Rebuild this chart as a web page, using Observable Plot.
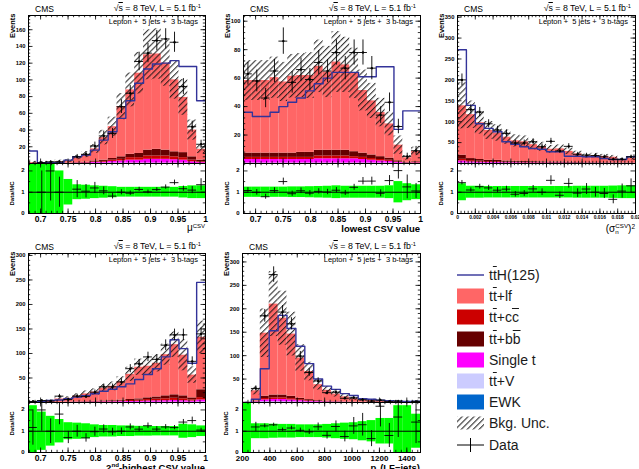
<!DOCTYPE html>
<html>
<head>
<meta charset="utf-8">
<script src="https://cdn.jsdelivr.net/npm/d3@7"></script>
<script src="https://cdn.jsdelivr.net/npm/@observablehq/plot@0.6"></script>
<style>
  html, body { margin: 0; padding: 0; background: #fff; }
  #page { position: relative; width: 639px; height: 469px; overflow: hidden;
          font-family: "Liberation Sans", Arial, Helvetica, sans-serif; color: #000; }
  .txt { position: absolute; white-space: pre; line-height: 1; }
  .ol { text-decoration: overline; }
  .txt sup { font-size: 65%; position: relative; top: -0.55em; vertical-align: baseline; line-height: 0; }
  .txt sub { font-size: 65%; position: relative; top: 0.3em; vertical-align: baseline; line-height: 0; }
  .stack { display: inline-block; font-size: 62%; line-height: 0.95; vertical-align: -0.35em; text-align: left; }
  .stack span { display: block; }
  .sw { position: absolute; }
</style>
</head>
<body>
<svg width="0" height="0" style="position:absolute">
  <defs>
    <pattern id="hatch" patternUnits="userSpaceOnUse" width="4.2" height="4.2" patternTransform="rotate(45)">
      <line x1="0.6" y1="-1" x2="0.6" y2="6" stroke="#111" stroke-width="0.95"/>
    </pattern>
  </defs>
</svg>
<div id="page"></div>
<script>
// ---------- binning and tick labels ----------
const nBins = 20;
const csvRange = [0.678, 1];
const sigRange = [0, 0.02];
const ptRange = [200, 1500];
const csvTicks = [0.7, 0.75, 0.8, 0.85, 0.9, 0.95, 1];
const sigTicks = [0, 0.002, 0.004, 0.006, 0.008, 0.01, 0.012, 0.014, 0.016, 0.018, 0.02];
const ptTicks = [200, 400, 600, 800, 1000, 1200, 1400];
const ratioTicks = [0, 1, 2];
const muYTicks = [20, 40, 60, 80, 100, 120, 140, 160];
const lowYTicks = [20, 40, 60, 80, 100];
const sigYTicks = [50, 100, 150, 200, 250, 300, 350];
const secYTicks = [50, 100, 150, 200, 250, 300];
const ptYTicks = [50, 100, 150, 200, 250, 300];

// ---------- mu^CSV ----------
const muLf  = [1, 1, 1, 2, 2.5, 6, 9, 14.5, 27, 38, 60, 77, 96, 114, 114, 104, 86, 66, 32, 13];
const muCc  = [0, 0, 0, 0, 0.2, 0.3, 0.5, 0.8, 1, 1.5, 2, 3, 3, 4, 4, 4, 3.5, 3, 2, 1];
const muBb  = [0, 0, 0, 0, 0.2, 0.3, 0.5, 1, 1.5, 2, 3, 4, 5, 7, 8, 7, 6, 6, 4, 2];
const muSt  = [0, 0, 0, 0, 0.1, 0.4, 0.5, 1, 1.2, 2, 2.5, 3.5, 3.5, 4.5, 4.5, 4.5, 4, 3.5, 2, 1];
const muTtv = [0, 0, 0, 0, 0, 0, 0, 0.2, 0.3, 0.5, 0.5, 0.5, 0.5, 0.5, 0.5, 0.5, 0.5, 0.5, 0, 0];
const muEwk = [0, 0, 0, 0, 0, 0, 0, 0, 0, 0, 0, 0, 0, 0, 0, 0, 0, 0, 0, 0];
const muTth = [15, 1, 1, 1, 4, 8, 10, 16, 28, 38, 54, 75, 96, 113, 119, 120, 123, 116, 116, 75];
const muData = [0, 1, 2, 2, 0, 8, 11, 21, 33, 36, 68, 84, 122, 132, 147, 149, 145, 92, 44, 23];
const muUnc = [1.4, 1.4, 1.4, 1.0, 0.6, 0.35, 0.33, 0.3, 0.28, 0.26, 0.23, 0.23, 0.23, 0.23, 0.23, 0.23, 0.23, 0.27, 0.3, 0.3];

// ---------- lowest CSV value ----------
const lowLf  = [51, 51, 51, 53, 50, 54, 54, 54, 59, 55, 62, 60, 55, 44, 38, 31, 24, 11, 3.2, 7.3];
const lowCc  = [1.5, 1.5, 1.5, 1.5, 1.5, 1.5, 1.5, 1.5, 2, 2, 2, 2, 1.5, 1.5, 1.2, 1, 0.8, 0.4, 0.2, 0.3];
const lowBb  = [3, 3, 3, 3, 3, 3, 3.5, 3.5, 4, 4, 4, 4, 3.5, 3, 2.5, 2, 1.5, 0.8, 0.3, 0.5];
const lowSt  = [2.5, 2.5, 2.5, 2.5, 2.5, 2.5, 2.5, 2.5, 3, 3, 3, 3, 3, 2.5, 2, 1.5, 1.2, 0.6, 0.2, 0.3];
const lowTtv = [0.3, 0.3, 0.3, 0.3, 0.3, 0.3, 0.3, 0.3, 0.3, 0.3, 0.3, 0.3, 0.3, 0.3, 0.3, 0.3, 0.3, 0.1, 0.1, 0.1];
const lowEwk = [0, 0, 0, 0, 0, 0, 0, 0, 0, 0, 0, 0, 0, 0, 0, 0, 0, 0, 0, 0];
const lowTth = [36, 33, 33, 36, 40, 43, 46, 51, 56, 60, 64, 64, 64, 61, 61, 68, 68, 24, 37, 37];
const lowData = [63, 58, 46, 65, 86, 57, 66, 59, 71, 65, 78, 67, 78, 78, 67, 34, 43, 26, 5, 9];
const lowUnc = [0.24, 0.24, 0.24, 0.24, 0.24, 0.25, 0.25, 0.26, 0.27, 0.28, 0.3, 0.28, 0.28, 0.28, 0.28, 0.28, 0.3, 0.5, 0.4, 0.35];

// ---------- (sigma_n^CSV)^2 ----------
const sigLf  = [118, 105, 88, 71.5, 65.5, 57, 49, 47.3, 40.7, 36.2, 30.7, 31.6, 26.2, 20.7, 15.6, 17.2, 15.4, 13.4, 8.3, 11];
const sigCc  = [4, 3, 2.5, 2, 2, 1.5, 1.3, 1.2, 1, 1, 0.8, 0.8, 0.7, 0.5, 0.4, 0.4, 0.4, 0.4, 0.3, 0.3];
const sigBb  = [10, 5, 4, 3, 3, 2.5, 2, 2, 1.8, 1.5, 1.3, 1.4, 1.1, 0.9, 0.7, 0.7, 0.6, 0.6, 0.4, 0.5];
const sigSt  = [5, 3, 2.5, 2, 2, 1.5, 1.5, 1.2, 1.2, 1, 1, 1, 0.8, 0.7, 0.6, 0.6, 0.5, 0.5, 0.4, 0.4];
const sigTtv = [1, 0.8, 0.6, 0.5, 0.5, 0.4, 0.4, 0.3, 0.3, 0.3, 0.2, 0.2, 0.2, 0.2, 0.1, 0.1, 0.1, 0.1, 0.1, 0.1];
const sigEwk = [0, 0, 0, 0, 0, 0, 0, 0, 0, 0, 0, 0, 0, 0, 0, 0, 0, 0, 0, 0];
const sigTth = [272, 139, 95, 84, 76, 52, 46, 40, 36, 34, 28, 28, 17.5, 17.5, 16, 16, 12, 9.5, 9.5, 16];
const sigData = [200, 129, 123, 95, 80, 72, 49, 49, 52, 40, 53, 30, 41, 22, 20, 19, 16, 10, 10, 16];
const sigUnc = [0.4, 0.28, 0.28, 0.27, 0.27, 0.27, 0.27, 0.27, 0.27, 0.27, 0.27, 0.27, 0.27, 0.28, 0.28, 0.28, 0.28, 0.29, 0.3, 0.3];

// ---------- 2nd-highest CSV value ----------
const secLf  = [1.7, 2, 3, 7, 7.7, 11.6, 15.7, 19.1, 25.8, 29.2, 37.2, 51.4, 64.6, 64.5, 68.7, 83.9, 102.3, 82.9, 46.6, 107];
const secCc  = [0, 0, 0, 0.2, 0.3, 0.5, 0.6, 0.8, 1, 1.2, 1.5, 2, 2.5, 3, 3.5, 4, 4.5, 4, 2.5, 5];
const secBb  = [0, 0, 0, 0, 0.2, 0.3, 0.5, 0.7, 1, 1.2, 1.5, 2, 2.5, 3.5, 4.5, 6, 7, 6, 4, 16];
const secSt  = [0, 0, 0, 0, 0.3, 0.5, 0.6, 0.8, 1, 1.2, 1.5, 1.8, 2, 2.5, 2.8, 3, 3.5, 3, 2.5, 4];
const secTtv = [0, 0, 0, 0, 0, 0.1, 0.1, 0.1, 0.2, 0.2, 0.3, 0.3, 0.4, 0.5, 0.5, 0.6, 0.7, 0.6, 0.4, 1];
const secEwk = [0, 0, 0, 0, 0, 0, 0, 0, 0, 0, 0, 0, 0, 0, 0, 0, 0, 0, 0, 0];
const secTth = [1, 2.5, 4, 5, 8, 11, 14, 18, 23, 27, 32, 38, 47, 57, 69, 93, 128, 110, 80, 245];
const secData = [2, 4, 3, 13, 6, 13, 12, 21, 32, 32, 42, 69, 79, 93, 88, 117, 138, 138, 84, 140];
const secUnc = [1.2, 0.9, 0.7, 0.55, 0.4, 0.38, 0.35, 0.3, 0.27, 0.27, 0.25, 0.25, 0.23, 0.23, 0.22, 0.22, 0.22, 0.33, 0.3, 0.25];

// ---------- pT(LF-jets) ----------
const ptLf  = [0.3, 22, 134.5, 194, 164, 132.7, 86, 60, 34, 23.3, 16.2, 10.8, 7.2, 4.1, 4.1, 2.05, 2.25, 1.55, 1.25, 1.15];
const ptCc  = [0, 0.5, 3, 3.5, 3.5, 3, 2, 1.5, 1, 0.6, 0.4, 0.3, 0.2, 0.1, 0.1, 0.05, 0.05, 0.05, 0.05, 0.05];
const ptBb  = [0, 1, 5, 6, 6, 5, 3, 2, 1.2, 0.8, 0.5, 0.3, 0.2, 0.1, 0.1, 0.05, 0.05, 0.05, 0.05, 0.05];
const ptSt  = [0, 1, 4, 5, 5, 4, 3, 2, 1.5, 1, 0.7, 0.5, 0.3, 0.2, 0.2, 0.1, 0.1, 0.1, 0.1, 0.1];
const ptTtv = [0, 0.2, 1, 1, 1, 1, 0.7, 0.5, 0.3, 0.2, 0.2, 0.1, 0.1, 0.1, 0.1, 0.05, 0.05, 0.05, 0.05, 0.05];
const ptEwk = [0, 0.3, 0.5, 0.5, 0.5, 0.3, 0.2, 0.1, 0.1, 0.1, 0, 0, 0, 0, 0, 0, 0, 0, 0, 0];
const ptTth = [0, 7, 72, 153, 186, 158, 120, 83, 50, 35, 28, 19, 15, 8, 7, 5, 4, 3, 2, 3];
const ptData = [0, 30, 185, 273, 193, 168, 99, 64, 46, 21, 22, 9, 10, 6, 3, 5, 2, 3, 0, 2];
const ptUnc = [1.5, 0.35, 0.35, 0.33, 0.32, 0.32, 0.3, 0.3, 0.3, 0.32, 0.35, 0.38, 0.4, 0.45, 0.5, 0.6, 0.6, 1.2, 1.2, 0.8];

// ---------- processes and legend ----------
const compNames  = ["EWK", "tt+V", "Single t", "tt+cc", "tt+bb", "tt+lf"];   // stacking order, bottom first
const compColors = ["#0066cc", "#ccccff", "#ff00ff", "#cc0000", "#660000", "#ff6666"];
const tthColor = "#333399";
const bandColor = "#00ff00";
const legendLabels = [
  't<span class="ol">t</span>H(125)', 't<span class="ol">t</span>+lf', 't<span class="ol">t</span>+c<span class="ol">c</span>',
  't<span class="ol">t</span>+b<span class="ol">b</span>', 'Single t', 't<span class="ol">t</span>+V', 'EWK', 'Bkg. Unc.', 'Data'
];
const legendKinds  = ["line", "box", "box", "box", "box", "box", "box", "hatch", "data"];
const legendColors = [tthColor, "#ff6666", "#cc0000", "#660000", "#ff00ff", "#ccccff", "#0066cc", null, "#000"];

const cmsText = "CMS";
const energyText = '√<span class="ol">s</span> = 8 TeV, L = 5.1 fb<sup>-1</sup>';
const selText = "Lepton +  5 jets +  3 b-tags";

const panels = [
  { L: 28,  R: 205, T: 15,  M: 163, B: 213, dmc: 30, x: csvRange, yMax: 177, yTicks: muYTicks, yStep: 20,
    xTicks: csvTicks, xStep: 0.05, xFont: 8.5, xPad: 2,
    lf: muLf, cc: muCc, bb: muBb, st: muSt, ttv: muTtv, ewk: muEwk, tth: muTth, data: muData, unc: muUnc,
    xLabel: 'μ<sup style="font-size:60%">CSV</sup>', xLabelSize: 10, xLabelBold: false },
  { L: 243, R: 420, T: 15,  M: 163, B: 213, dmc: 30, x: csvRange, yMax: 104, yTicks: lowYTicks, yStep: 20,
    xTicks: csvTicks, xStep: 0.05, xFont: 8.5, xPad: 2,
    lf: lowLf, cc: lowCc, bb: lowBb, st: lowSt, ttv: lowTtv, ewk: lowEwk, tth: lowTth, data: lowData, unc: lowUnc,
    xLabel: 'lowest CSV value', xLabelSize: 9.5, xLabelBold: true },
  { L: 457, R: 635, T: 15,  M: 163, B: 213, dmc: 30, x: sigRange, yMax: 354, yTicks: sigYTicks, yStep: 50,
    xTicks: sigTicks, xStep: 0.002, xFont: 4.9, xPad: 2,
    lf: sigLf, cc: sigCc, bb: sigBb, st: sigSt, ttv: sigTtv, ewk: sigEwk, tth: sigTth, data: sigData, unc: sigUnc,
    xLabel: '(σ<span class="stack"><span>CSV</span><span>n</span></span>)<sup>2</sup>', xLabelSize: 10, xLabelBold: false },
  { L: 28,  R: 205, T: 253, M: 402, B: 452, dmc: 21, x: csvRange, yMax: 304, yTicks: secYTicks, yStep: 50,
    xTicks: csvTicks, xStep: 0.05, xFont: 8.5, xPad: 2,
    lf: secLf, cc: secCc, bb: secBb, st: secSt, ttv: secTtv, ewk: secEwk, tth: secTth, data: secData, unc: secUnc,
    xLabel: '2<sup>nd</sup>-highest CSV value', xLabelSize: 9.5, xLabelBold: true },
  { L: 242, R: 420, T: 253, M: 402, B: 452, dmc: 21, x: ptRange, yMax: 318, yTicks: ptYTicks, yStep: 50,
    xTicks: ptTicks, xStep: 200, xFont: 8, xPad: 3,
    lf: ptLf, cc: ptCc, bb: ptBb, st: ptSt, ttv: ptTtv, ewk: ptEwk, tth: ptTth, data: ptData, unc: ptUnc,
    xLabel: 'p<sub>T</sub>(LF−jets)', xLabelSize: 9.5, xLabelBold: true }
];

const page = document.getElementById("page");
const FONT = '"Liberation Sans", Arial, Helvetica, sans-serif';

function addText(html, x, baseline, fs, opts = {}) {
  const d = document.createElement("div");
  d.className = "txt";
  d.innerHTML = html;
  d.style.fontSize = fs + "px";
  d.style.top = (baseline - 0.86 * fs) + "px";
  if (opts.anchor === "end") d.style.right = (639 - x) + "px";
  else d.style.left = x + "px";
  if (opts.bold) d.style.fontWeight = "bold";
  if (opts.color) d.style.color = opts.color;
  page.appendChild(d);
  return d;
}

function place(svg, left, top) {
  svg.style.position = "absolute";
  svg.style.left = left + "px";
  svg.style.top = top + "px";
  page.appendChild(svg);
}

function minorTicks(domain, step, k) {
  const s = step / k, out = [];
  const start = Math.ceil(domain[0] / s - 1e-9) * s;
  for (let v = start; v <= domain[1] + 1e-12; v += s) out.push(+v.toFixed(10));
  return out;
}

// inward ROOT-style tick marks on the frame
function frameTicks(xMaj, xMin, yMaj, yMin, fw, fh) {
  const tk = { stroke: "black", strokeWidth: 0.8 };
  return [
    Plot.tickY(yMaj, { y: d => d, insetRight: fw - 4.5, ...tk }),
    Plot.tickY(yMaj, { y: d => d, insetLeft: fw - 4.5, ...tk }),
    Plot.tickY(yMin, { y: d => d, insetRight: fw - 2.2, ...tk }),
    Plot.tickY(yMin, { y: d => d, insetLeft: fw - 2.2, ...tk }),
    Plot.tickX(xMaj, { x: d => d, insetTop: fh - 4.5, ...tk }),
    Plot.tickX(xMin, { x: d => d, insetTop: fh - 2.2, ...tk }),
    Plot.tickX(xMaj, { x: d => d, insetBottom: fh - 4.5, ...tk }),
    Plot.tickX(xMin, { x: d => d, insetBottom: fh - 2.2, ...tk })
  ];
}

function fmt(v) { return String(+v.toFixed(6)); }

function drawPanel(p) {
  const E = d3.range(nBins + 1).map(i => p.x[0] + (p.x[1] - p.x[0]) * i / nBins);
  const comps = [p.ewk, p.ttv, p.st, p.cc, p.bb, p.lf];
  const total = new Array(nBins).fill(0);
  const rects = [];
  comps.forEach((vals, c) => {
    vals.forEach((v, i) => {
      if (v > 0) rects.push({ x1: E[i], x2: E[i + 1], y1: total[i], y2: total[i] + v, comp: compNames[c] });
      total[i] += v;
    });
  });
  const bins = d3.range(nBins).map(i => ({
    x1: E[i], x2: E[i + 1], xc: (E[i] + E[i + 1]) / 2,
    mc: total[i], n: p.data[i], u: p.unc[i]
  }));
  const obs = bins.filter(d => d.n > 0);
  const tthPts = p.tth.map((v, i) => ({ x: E[i], y: v })).concat([{ x: E[nBins], y: p.tth[nBins - 1] }]);

  const fw = p.R - p.L, mh = p.M - p.T, rh = p.B - p.M;
  const padL = 30, padR = 4;
  const xMin = minorTicks(p.x, p.xStep, 5);
  const style = { fontFamily: FONT, overflow: "visible", background: "transparent", color: "black" };

  // upper pad: stacked backgrounds, uncertainty hatch, signal shape, data
  const main = Plot.plot({
    width: fw + padL + padR, height: mh + 2,
    marginLeft: padL, marginRight: padR, marginTop: 2, marginBottom: 0,
    style,
    x: { domain: p.x, axis: null },
    y: { domain: [0, p.yMax], axis: null },
    color: { domain: compNames, range: compColors },
    marks: [
      Plot.rect(rects, { x1: "x1", x2: "x2", y1: "y1", y2: "y2", fill: "comp", clip: true }),
      Plot.rect(bins, { x1: "x1", x2: "x2", y1: d => Math.max(0, d.mc * (1 - d.u)), y2: d => d.mc * (1 + d.u),
                        fill: "url(#hatch)", clip: true }),
      Plot.line(tthPts, { x: "x", y: "y", curve: "step-after", stroke: tthColor, strokeWidth: 1.4, clip: true }),
      Plot.ruleX(obs, { x: "xc", y1: d => d.n - Math.sqrt(d.n), y2: d => d.n + Math.sqrt(d.n),
                        stroke: "black", strokeWidth: 0.9, clip: true }),
      Plot.ruleY(obs, { y: "n", x1: "x1", x2: "x2", stroke: "black", strokeWidth: 0.9, clip: true }),
      Plot.dot(obs, { x: "xc", y: "n", r: 1.2, fill: "black", clip: true }),
      ...frameTicks(p.xTicks, xMin, p.yTicks, minorTicks([0, p.yMax], p.yStep, 5), fw, mh),
      Plot.axisY(p.yTicks, { tickSize: 0, tickPadding: 3, fontSize: 5.8, fontWeight: "bold", label: null }),
      Plot.text(["Events"], { text: d => d, frameAnchor: "top-left", rotate: -90, textAnchor: "end",
                              dx: -19, dy: -2, fontSize: 7.5, fontWeight: "bold" }),
      Plot.frame({ stroke: "black", strokeWidth: 1 })
    ]
  });
  place(main, p.L - padL, p.T - 2);

  // lower pad: data / MC ratio with background uncertainty band
  const ratio = Plot.plot({
    width: fw + padL + padR, height: rh + 24,
    marginLeft: padL, marginRight: padR, marginTop: 0, marginBottom: 24,
    style,
    x: { domain: p.x, axis: null },
    y: { domain: [0, 2.35], axis: null },
    marks: [
      Plot.rect(bins, { x1: "x1", x2: "x2", y1: d => 1 - d.u, y2: d => 1 + d.u, fill: bandColor, clip: true }),
      Plot.ruleY([1], { stroke: "black", strokeWidth: 1 }),
      Plot.ruleX(obs, { x: "xc", y1: d => (d.n - Math.sqrt(d.n)) / d.mc, y2: d => (d.n + Math.sqrt(d.n)) / d.mc,
                        stroke: "black", strokeWidth: 0.9, clip: true }),
      Plot.ruleY(obs, { y: d => d.n / d.mc, x1: "x1", x2: "x2", stroke: "black", strokeWidth: 0.9, clip: true }),
      ...frameTicks(p.xTicks, xMin, ratioTicks, [0.5, 1.5], fw, rh),
      Plot.axisX(p.xTicks, { tickSize: 0, tickPadding: p.xPad, fontSize: p.xFont, fontWeight: "bold",
                             tickFormat: fmt, label: null }),
      Plot.axisY(ratioTicks, { tickSize: 0, tickPadding: 4, fontSize: 6, fontWeight: "bold", label: null, dy: -0.5 }),
      Plot.text(["Data/MC"], { text: d => d, frameAnchor: "top-left", rotate: -90, textAnchor: "middle",
                               dx: -19, dy: p.dmc, fontSize: 6, fontWeight: "bold" }),
      Plot.frame({ stroke: "black", strokeWidth: 1 })
    ]
  });
  place(ratio, p.L - padL, p.M);

  // pad headers
  addText(cmsText, p.L + 7, p.T - 3, 8.5);
  addText(energyText, p.R - 4, p.T - 3, 8.8, { anchor: "end" });
  addText(selText, p.R - 7, p.T + 9.5, 7.5, { anchor: "end" });
  addText(p.xLabel, p.R, p.B + 19, p.xLabelSize, { anchor: "end", bold: p.xLabelBold });
}

panels.forEach(drawPanel);

// legend
legendLabels.forEach((lab, i) => {
  const cy = 275 + i * 21.2;
  const kind = legendKinds[i];
  const sw = document.createElementNS("http://www.w3.org/2000/svg", "svg");
  sw.setAttribute("width", 28); sw.setAttribute("height", 16);
  sw.setAttribute("class", "sw");
  sw.style.left = "457px"; sw.style.top = (cy - 8) + "px";
  let inner = "";
  if (kind === "line") inner = `<line x1="0" x2="27" y1="8" y2="8" stroke="${legendColors[i]}" stroke-width="1.4"/>`;
  else if (kind === "box") inner = `<rect x="0" y="0.5" width="27" height="15" fill="${legendColors[i]}"/>`;
  else if (kind === "hatch") inner = `<rect x="0" y="1.5" width="27" height="13" fill="url(#hatch)"/>`;
  else inner = `<line x1="0" x2="27" y1="8" y2="8" stroke="#000" stroke-width="1"/><line x1="13.5" x2="13.5" y1="1" y2="15" stroke="#000" stroke-width="1"/>`;
  sw.innerHTML = inner;
  page.appendChild(sw);
  addText(lab, 489, cy + 5, 14, { color: "#1a1a1a" });
});
</script>
</body>
</html>
